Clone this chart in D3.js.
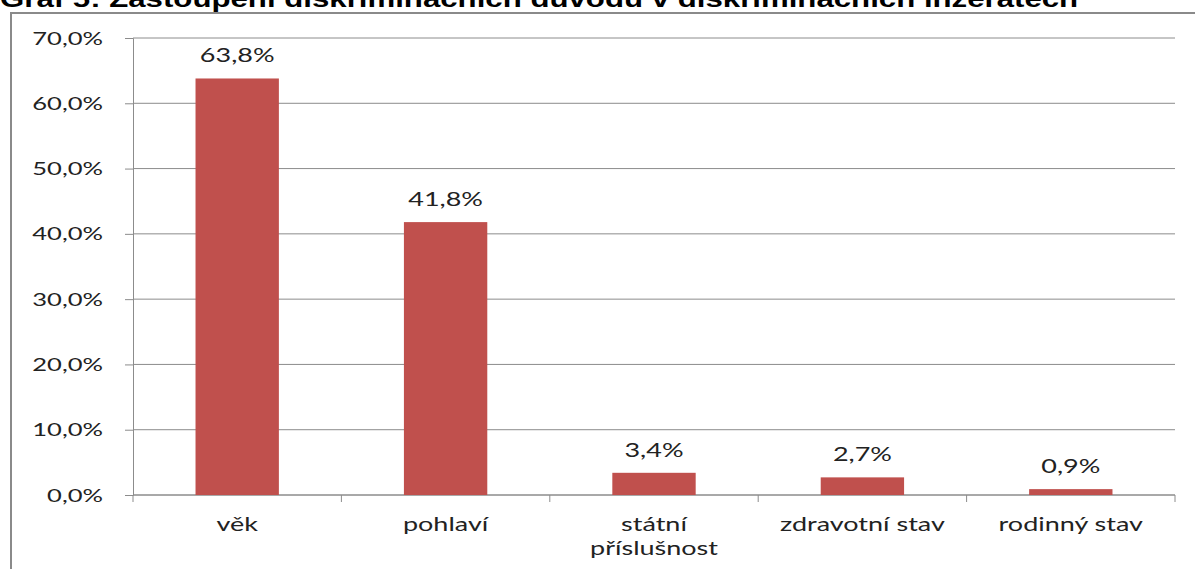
<!DOCTYPE html>
<html>
<head>
<meta charset="utf-8">
<script src="https://cdn.jsdelivr.net/npm/d3@7"></script>
<style>
  body { margin: 0; background: #fff; }
  svg { display: block; }
</style>
</head>
<body>
<div id="chart"></div>
<script>
// data
var categories = ["věk", "pohlaví", "státní příslušnost", "zdravotní stav", "rodinný stav"];
var labelLines = [["věk"], ["pohlaví"], ["státní", "příslušnost"], ["zdravotní stav"], ["rodinný stav"]];
var values = [63.8, 41.8, 3.4, 2.7, 0.9];
var yTicks = [0, 10, 20, 30, 40, 50, 60, 70];
var title = "Graf 5: Zastoupení diskriminačních důvodů v diskriminačních inzerátech";

var svgWidth = 1195;
var svgHeight = 569;

var margin = { top: 38, right: 20, bottom: 74, left: 133 };
var width = svgWidth - margin.left - margin.right;
var height = svgHeight - margin.top - margin.bottom;

// the source image is stretched sideways, so text gets a horizontal scale
var stretch = 1.42;
var labelFont = "Lato, 'Open Sans', sans-serif";
var pct = d => d3.format(".1f")(d).replace(".", ",") + "%";

function placeText(g, x, y, str) {
  return g.append("text")
    .attr("transform", `translate(${x}, ${y}) scale(${stretch}, 1)`)
    .attr("text-anchor", "middle")
    .style("font-family", labelFont)
    .style("font-size", "19px")
    .attr("fill", "#222")
    .text(str);
}

var svg = d3.select("#chart")
  .append("svg")
  .attr("width", svgWidth)
  .attr("height", svgHeight);

// title, cut off by the page top like in the source
svg.append("text")
  .attr("transform", "translate(0, 7) scale(1.3, 1)")
  .style("font-family", "Liberation Sans, Arial, sans-serif")
  .style("font-weight", "bold")
  .style("font-size", "24px")
  .attr("fill", "#000")
  .text(title);

// outer frame (top + left edges)
svg.append("path")
  .attr("d", "M11,569 V13 H1195")
  .attr("fill", "none")
  .attr("stroke", "#8a8a8a")
  .attr("stroke-width", 2);

var chartGroup = svg.append("g")
  .attr("transform", `translate(${margin.left}, ${margin.top})`);

var xScale = d3.scaleBand()
  .domain(categories)
  .range([0, width])
  .paddingInner(0.6)
  .paddingOuter(0.3);

var yScale = d3.scaleLinear()
  .domain([0, 70])
  .range([height, 0]);

// gridlines
chartGroup.append("g")
  .selectAll("line")
  .data(yTicks)
  .enter()
  .append("line")
  .attr("x1", 0)
  .attr("x2", width)
  .attr("y1", d => yScale(d))
  .attr("y2", d => yScale(d))
  .attr("stroke", "#8c8c8c")
  .attr("stroke-width", 1);

// y axis
var leftAxis = d3.axisLeft(yScale)
  .tickValues(yTicks)
  .tickSize(8)
  .tickFormat(pct);

var yAxisG = chartGroup.append("g").call(leftAxis);
yAxisG.select(".domain").attr("stroke", "#8c8c8c");
yAxisG.selectAll(".tick line").attr("stroke", "#8c8c8c");
yAxisG.selectAll(".tick text")
  .attr("x", 0)
  .attr("dy", "0.34em")
  .attr("transform", `translate(-30, 0) scale(${stretch}, 1)`)
  .style("font-family", labelFont)
  .style("font-size", "18px")
  .attr("fill", "#222");

// x axis with ticks at category boundaries
var step = xScale.step();
var boundaries = d3.range(categories.length + 1).map(i => i * step);
var xAxisG = chartGroup.append("g")
  .attr("transform", `translate(0, ${height})`);
xAxisG.append("line")
  .attr("x1", 0).attr("x2", width)
  .attr("stroke", "#8c8c8c");
xAxisG.selectAll(".bt")
  .data(boundaries)
  .enter()
  .append("line")
  .attr("x1", d => d).attr("x2", d => d)
  .attr("y1", 0).attr("y2", 7)
  .attr("stroke", "#8c8c8c");

// category labels (wrapped like Excel)
categories.forEach(function (c, i) {
  var cx = xScale(c) + xScale.bandwidth() / 2;
  labelLines[i].forEach(function (l, j) {
    placeText(xAxisG, cx, 36 + j * 24, l);
  });
});

// bars
chartGroup.selectAll("rect.bar")
  .data(values)
  .enter()
  .append("rect")
  .attr("class", "bar")
  .attr("x", (d, i) => xScale(categories[i]))
  .attr("y", d => yScale(d))
  .attr("width", xScale.bandwidth())
  .attr("height", d => height - yScale(d))
  .attr("fill", "#C0504D");

// value labels
values.forEach(function (v, i) {
  placeText(chartGroup, xScale(categories[i]) + xScale.bandwidth() / 2, yScale(v) - 16, pct(v));
});
</script>
</body>
</html>
